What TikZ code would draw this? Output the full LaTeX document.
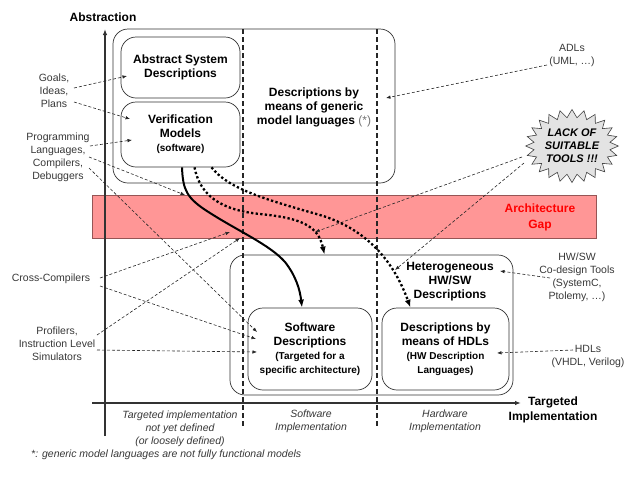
\documentclass[tikz,border=0pt]{standalone}
\usepackage{fontspec}
\setmainfont{Liberation Sans}
\usetikzlibrary{arrows.meta,shapes.symbols}

\definecolor{gapred}{RGB}{255,150,150}
\definecolor{gapline}{RGB}{150,85,85}
\definecolor{labelgray}{RGB}{55,55,55}
\newcommand{\subfont}{\fontsize{10}{14}\selectfont}

\begin{document}
\begin{tikzpicture}[x=1pt,y=-1pt,
    lbl/.style={text=labelgray, font=\fontsize{10.5}{13}\selectfont, align=center, inner sep=0pt},
    axlbl/.style={text=labelgray, font=\fontsize{10.5}{13}\selectfont\itshape, align=center, inner sep=0pt},
    titl/.style={font=\fontsize{12}{14}\selectfont\bfseries, align=center, inner sep=0pt},
    outerbox/.style={draw=black!80, rounded corners=15pt, line width=0.7pt, inner sep=0pt},
    descbox/.style={draw=black!80, rounded corners=15pt, line width=0.7pt, align=center, inner sep=0pt, font=\fontsize{12}{14}\selectfont\bfseries},
    gapband/.style={fill=gapred, draw=gapline, line width=0.7pt, minimum width=504pt, minimum height=43pt, inner sep=0pt},
    burst/.style={starburst, starburst points=24, starburst point height=8pt, random starburst=0, fill=gray!22, draw=black!75, line width=0.6pt, minimum width=91pt, minimum height=73pt, inner sep=0pt, align=center, font=\fontsize{11}{13}\selectfont\bfseries\itshape},
    hint/.style={draw=black!85, line width=0.6pt, dash pattern=on 3pt off 2pt, -{Latex[length=4.5pt,width=3.5pt]}},
    axis/.style={draw=black!80, line width=1.3pt, -{Latex[length=6pt,width=4.5pt]}},
    sepline/.style={draw=black!85, line width=1.1pt, dash pattern=on 5pt off 3pt},
    swpath/.style={draw=black, line width=2pt, -{Latex[length=8pt,width=6pt]}},
    dotpath/.style={draw=black, line width=2.3pt, dash pattern=on 2.3pt off 2.3pt, -{Latex[length=8pt,width=6pt]}}]
    \useasboundingbox (0,0) rectangle (625,480);

    % architecture gap
    \node[gapband] (gap) at (344,216.5) {};
    \node[align=center, text=red, font=\fontsize{12}{16}\selectfont\bfseries, inner sep=0pt] (gaptxt) at (540,217) {Architecture\\Gap};

    % groups and description boxes
    \node[outerbox, minimum width=282pt, minimum height=154pt] (absgroup) at (254,106) {};
    \node[outerbox, minimum width=283pt, minimum height=140pt] (hetgroup) at (371.5,325) {};
    \node[descbox, minimum width=119pt, minimum height=61pt] (abstract) at (180.5,67.5) {Abstract System\\Descriptions};
    \node[descbox, minimum width=119pt, minimum height=65pt] (verif) at (180.5,134.5) {Verification\\Models\\{\subfont (software)}};
    \node[descbox, minimum width=124pt, minimum height=82pt] (softw) at (310,349) {Software\\Descriptions\\{\subfont (Targeted for a}\\{\subfont specific architecture)}};
    \node[descbox, minimum width=127pt, minimum height=82pt] (hdl) at (445.5,349) {Descriptions by\\means of HDLs\\{\subfont (HW Description}\\{\subfont Languages)}};
    \node[titl] (generic) at (314,107) {Descriptions by\\means of generic\\model languages {\mdseries\color{black!55}(*)}};
    \node[titl] (hetero) at (450,282) {Heterogeneous\\HW/SW\\Descriptions};

    % axes and separators
    \coordinate (ytop) at (105,29);
    \coordinate (ybot) at (105,436);
    \coordinate (xleft) at (92,403);
    \coordinate (xright) at (521,403);
    \draw[axis] (ybot) -- (ytop);
    \draw[axis] (xleft) -- (xright);
    \draw[sepline] (243,29) -- (243,426);
    \draw[sepline] (377,29) -- (377,426);
    \node[titl] (abslbl) at (103,17) {Abstraction};
    \node[titl, font=\fontsize{12}{15}\selectfont\bfseries] (implbl) at (553,410) {Targeted\\Implementation};

    % labels under the axis
    \node[axlbl] (undef) at (180,429) {Targeted implementation\\not yet defined\\(or loosely defined)};
    \node[axlbl] (swimpl) at (311,421) {Software\\Implementation};
    \node[axlbl] (hwimpl) at (445,421) {Hardware\\Implementation};
    \node[axlbl, anchor=west, font=\fontsize{10.5}{12}\selectfont\itshape] (foot) at (31,455) {*: generic model languages are not fully functional models};

    % tools
    \node[lbl] (goals) at (54,91) {Goals,\\Ideas,\\Plans};
    \node[lbl] (progr) at (58,157.5) {Programming\\Languages,\\Compilers,\\Debuggers};
    \node[lbl] (cross) at (51,279) {Cross-Compilers};
    \node[lbl] (profil) at (57,343.5) {Profilers,\\Instruction Level\\Simulators};
    \node[lbl] (adl) at (572,55) {ADLs\\(UML, \dots)};
    \node[lbl] (codesign) at (577,277) {HW/SW\\Co-design Tools\\(SystemC,\\Ptolemy, \dots)};
    \node[lbl] (hdls) at (588,356.5) {HDLs\\(VHDL, Verilog)};
    \node[burst] (lack) at (572,146) {LACK OF\\SUITABLE\\TOOLS !!!};

    % arrow ends
    \coordinate (goalsA) at (74,88);
    \coordinate (goalsB) at (74,102);
    \coordinate (progA) at (90,146);
    \coordinate (progB) at (89,157);
    \coordinate (progC) at (89,168);
    \coordinate (crossA) at (100,278);
    \coordinate (crossB) at (100,286);
    \coordinate (profA) at (97,335);
    \coordinate (profB) at (97,350);
    \coordinate (adlA) at (547,65);
    \coordinate (lackA) at (522,157);
    \coordinate (lackB) at (524,163);
    \coordinate (codesA) at (550,278);
    \coordinate (hdlsA) at (573,350);
    \coordinate (absIn) at (127,76);
    \coordinate (verIn1) at (130,119);
    \coordinate (verIn2) at (132,140);
    \coordinate (gapIn1) at (185,195);
    \coordinate (gapIn2) at (230,232);
    \coordinate (gapIn3) at (240,238);
    \coordinate (gapIn4) at (315,232);
    \coordinate (swIn1) at (257,332);
    \coordinate (swIn2) at (256,339);
    \coordinate (swIn3) at (257,352);
    \coordinate (genIn) at (386,98);
    \coordinate (hetIn1) at (395,270);
    \coordinate (hetIn2) at (500,271);
    \coordinate (hdlIn) at (497,353);

    \draw[hint] (goalsA) -- (absIn);
    \draw[hint] (goalsB) -- (verIn1);
    \draw[hint] (progA) -- (verIn2);
    \draw[hint] (progB) -- (gapIn1);
    \draw[hint] (progC) -- (swIn1);
    \draw[hint] (crossA) -- (gapIn2);
    \draw[hint] (crossB) -- (swIn2);
    \draw[hint] (profA) -- (gapIn3);
    \draw[hint] (profB) -- (swIn3);
    \draw[hint] (adlA) -- (genIn);
    \draw[hint] (lackA) -- (gapIn4);
    \draw[hint] (lackB) -- (hetIn1);
    \draw[hint] (codesA) -- (hetIn2);
    \draw[hint] (hdlsA) -- (hdlIn);

    % refinement paths
    \draw[swpath] ([xshift=1.5pt]verif.south) .. controls (183,190) and (186,198) .. (210,213) .. controls (240,232) and (270,245) .. (285,262) .. controls (296,276) and (300,290) .. ([xshift=-8pt]softw.north);
    \draw[dotpath] ([xshift=14pt]verif.south) .. controls (200,195) and (220,210) .. (260,214) .. controls (300,218) and (318,225) .. ([xshift=-47pt]hetgroup.north);
    \draw[dotpath] ([xshift=31pt]verif.south) .. controls (228,188) and (260,198) .. (320,215) .. controls (370,230) and (395,265) .. ([xshift=-35pt]hdl.north);
\end{tikzpicture}
\end{document}
